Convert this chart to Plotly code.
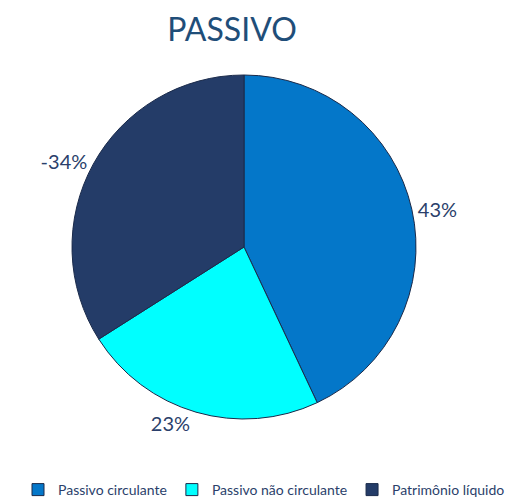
import plotly.graph_objects as go

categories = ["Passivo circulante", "Passivo não circulante", "Patrimônio líquido"]
shares = [43, 23, 34]
label_text = ["43%", "23%", "-34%"]
colors = ["#0477C9", "#00FFFF", "#243C68"]

# the page body has an 8px margin; size the figure to fit the window
OFF = 8
W, H = 529 - OFF, 500 - OFF

def px_x(x):
    return (x - OFF) / W

def px_y(y):
    return 1 - (y - OFF) / H

fig = go.Figure(go.Pie(
    labels=categories,
    values=shares,
    text=label_text,
    textinfo="text",
    textposition="outside",
    sort=False,
    direction="clockwise",
    rotation=0,
    marker=dict(colors=colors, line=dict(color="#1a2a4a", width=1)),
    textfont=dict(family="Lato, Carlito, sans-serif", size=20, color="#2B3F6B"),
    domain=dict(x=[px_x(72), px_x(416)], y=[px_y(419), px_y(75)]),
    showlegend=True,
))

fig.update_layout(
    width=W, height=H,
    margin=dict(l=0, r=0, t=0, b=0, autoexpand=False),
    paper_bgcolor="white",
    plot_bgcolor="white",
    title=dict(text="PASSIVO", x=px_x(232), xanchor="center", y=px_y(30), yanchor="middle",
               font=dict(family="Lato, Carlito, sans-serif", size=32, color="#1F4E79")),
    legend=dict(orientation="h", x=px_x(264), xanchor="center", y=px_y(490), yanchor="middle",
                font=dict(family="Lato, Carlito, sans-serif", size=14, color="#2B3F6B"),
                itemwidth=30, traceorder="normal", bgcolor="rgba(0,0,0,0)"),
)

fig.write_html("out.html")
